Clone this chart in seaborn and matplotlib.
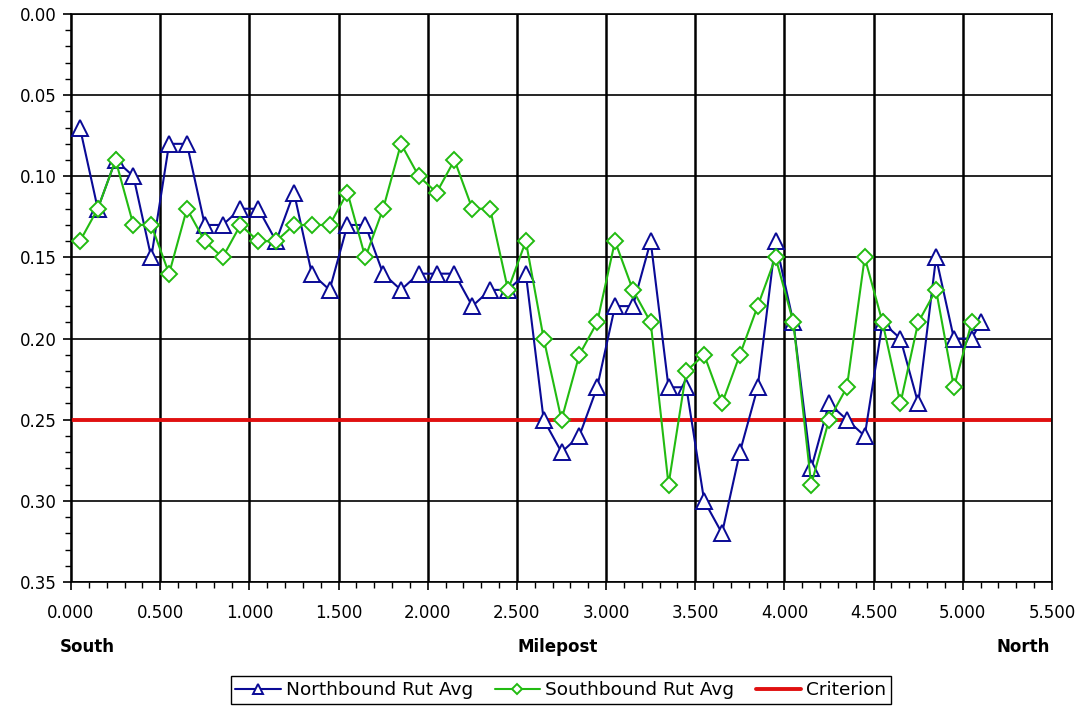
import numpy as np
import pandas as pd
import matplotlib
matplotlib.use("Agg")
import matplotlib.pyplot as plt
from matplotlib.ticker import MultipleLocator, FormatStrFormatter
import seaborn as sns

# ==================== DATOS ====================
north_mp = [0.05, 0.15, 0.25, 0.35, 0.45, 0.55, 0.65, 0.75, 0.85, 0.95,
            1.05, 1.15, 1.25, 1.35, 1.45, 1.55, 1.65, 1.75, 1.85, 1.95,
            2.05, 2.15, 2.25, 2.35, 2.45, 2.55, 2.65, 2.75, 2.85, 2.95,
            3.05, 3.15, 3.25, 3.35, 3.45, 3.55, 3.65, 3.75, 3.85, 3.95,
            4.05, 4.15, 4.25, 4.35, 4.45, 4.55, 4.65, 4.75, 4.85, 4.95,
            5.05, 5.10]
north_rut = [0.07, 0.12, 0.09, 0.10, 0.15, 0.08, 0.08, 0.13, 0.13, 0.12,
             0.12, 0.14, 0.11, 0.16, 0.17, 0.13, 0.13, 0.16, 0.17, 0.16,
             0.16, 0.16, 0.18, 0.17, 0.17, 0.16, 0.25, 0.27, 0.26, 0.23,
             0.18, 0.18, 0.14, 0.23, 0.23, 0.30, 0.32, 0.27, 0.23, 0.14,
             0.19, 0.28, 0.24, 0.25, 0.26, 0.19, 0.20, 0.24, 0.15, 0.20,
             0.20, 0.19]

south_mp = [0.05, 0.15, 0.25, 0.35, 0.45, 0.55, 0.65, 0.75, 0.85, 0.95,
            1.05, 1.15, 1.25, 1.35, 1.45, 1.55, 1.65, 1.75, 1.85, 1.95,
            2.05, 2.15, 2.25, 2.35, 2.45, 2.55, 2.65, 2.75, 2.85, 2.95,
            3.05, 3.15, 3.25, 3.35, 3.45, 3.55, 3.65, 3.75, 3.85, 3.95,
            4.05, 4.15, 4.25, 4.35, 4.45, 4.55, 4.65, 4.75, 4.85, 4.95,
            5.05]
south_rut = [0.14, 0.12, 0.09, 0.13, 0.13, 0.16, 0.12, 0.14, 0.15, 0.13,
             0.14, 0.14, 0.13, 0.13, 0.13, 0.11, 0.15, 0.12, 0.08, 0.10,
             0.11, 0.09, 0.12, 0.12, 0.17, 0.14, 0.20, 0.25, 0.21, 0.19,
             0.14, 0.17, 0.19, 0.29, 0.22, 0.21, 0.24, 0.21, 0.18, 0.15,
             0.19, 0.29, 0.25, 0.23, 0.15, 0.19, 0.24, 0.19, 0.17, 0.23,
             0.19]

criterion_mp = [0.0, 5.5]
criterion_val = [0.25, 0.25]
# ================================================

df_n = pd.DataFrame({"mp": north_mp, "rut": north_rut})
df_s = pd.DataFrame({"mp": south_mp, "rut": south_rut})
df_c = pd.DataFrame({"mp": criterion_mp, "rut": criterion_val})

sns.set_style("white", {"xtick.bottom": True, "ytick.left": True})
plt.rcParams["font.family"] = ["DejaVu Sans"]
plt.rcParams["text.color"] = "black"
plt.rcParams["xtick.color"] = "black"
plt.rcParams["ytick.color"] = "black"

fig = plt.figure(figsize=(10.83, 7.06), dpi=100)
ax = fig.add_axes([71/1083, 1 - 582/706, (1052-71)/1083, (582-14)/706])

# rejilla
ax.set_axisbelow(True)
ax.grid(True, axis="x", which="major", color="black", lw=1.8)
ax.grid(True, axis="y", which="major", color="black", lw=1.2)

sns.lineplot(data=df_c, x="mp", y="rut", ax=ax, color="#e01010", lw=2.8,
             label="Criterion", zorder=2)
sns.lineplot(data=df_n, x="mp", y="rut", ax=ax, color="#0a0a96", lw=1.5,
             marker="^", markersize=11, markerfacecolor="white",
             markeredgecolor="#0a0a96", markeredgewidth=1.4,
             label="Northbound Rut Avg", zorder=3)
sns.lineplot(data=df_s, x="mp", y="rut", ax=ax, color="#22bb11", lw=1.5,
             marker="D", markersize=8, markerfacecolor="white",
             markeredgecolor="#22bb11", markeredgewidth=1.4,
             label="Southbound Rut Avg", zorder=4)

ax.set_xlim(0, 5.5)
ax.set_ylim(0.35, 0.0)
ax.xaxis.set_major_locator(MultipleLocator(0.5))
ax.xaxis.set_minor_locator(MultipleLocator(0.1))
ax.yaxis.set_major_locator(MultipleLocator(0.05))
ax.yaxis.set_minor_locator(MultipleLocator(0.01))
ax.xaxis.set_major_formatter(FormatStrFormatter("%.3f"))
ax.yaxis.set_major_formatter(FormatStrFormatter("%.2f"))
ax.tick_params(axis="both", which="major", direction="out", length=6,
               width=1.2, colors="black", labelsize=12, pad=10)
ax.tick_params(axis="both", which="minor", direction="out", length=4,
               width=1, colors="black", bottom=True, left=True)
ax.tick_params(axis="y", which="major", pad=4)
ax.set_xlabel("")
ax.set_ylabel("")
for sp in ax.spines.values():
    sp.set_color("black")
    sp.set_linewidth(1.2)

# etiquetas bajo el eje
fig.text(87/1083, 1 - 647/706, "South", ha="center", va="center",
         fontsize=12, fontweight="bold", color="black")
fig.text(558/1083, 1 - 647/706, "Milepost", ha="center", va="center",
         fontsize=12, fontweight="bold", color="black")
fig.text(1050/1083, 1 - 647/706, "North", ha="right", va="center",
         fontsize=12, fontweight="bold", color="black")

# leyenda en el orden original
h, l = ax.get_legend_handles_labels()
order = [l.index("Northbound Rut Avg"), l.index("Southbound Rut Avg"), l.index("Criterion")]
leg = ax.legend([h[i] for i in order], [l[i] for i in order],
                loc="center", bbox_to_anchor=(561/1083, 1 - 690/706),
                bbox_transform=fig.transFigure, ncol=3, fontsize=13.3,
                frameon=True, fancybox=False, framealpha=1,
                edgecolor="black", handlelength=2.45, handletextpad=0.3,
                columnspacing=1.15, borderpad=0.25, markerscale=0.7)
leg.get_frame().set_linewidth(1.0)
for t in leg.get_texts():
    t.set_color("black")

fig.savefig("out.png", dpi=100)
